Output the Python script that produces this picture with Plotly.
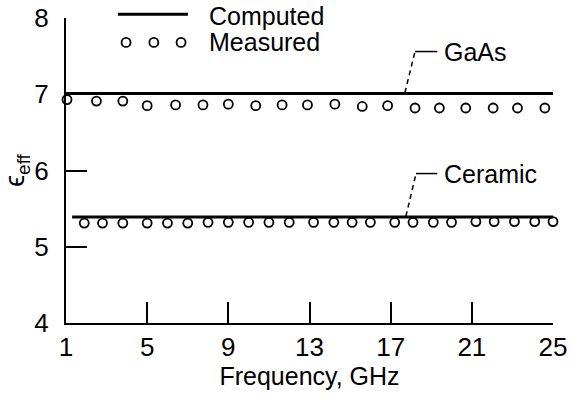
import plotly.graph_objects as go

# Effective permittivity vs frequency for two substrates
freq_gaas_meas = [1.05, 2.5, 3.8, 5.0, 6.4, 7.75, 9.0, 10.35, 11.65, 12.9,
                  14.25, 15.6, 16.85, 18.2, 19.4, 20.7, 22.05, 23.25, 24.6]
eps_gaas_meas = [6.93, 6.91, 6.91, 6.85, 6.86, 6.86, 6.87, 6.85, 6.86, 6.86,
                 6.87, 6.84, 6.85, 6.82, 6.82, 6.82, 6.82, 6.82, 6.82]

freq_ceramic_meas = [1.9, 2.8, 3.8, 5.0, 6.0, 7.0, 8.0, 9.0, 10.0, 11.0, 12.0, 13.2,
                     14.2, 15.1, 16.0, 17.2, 18.1, 19.1, 20.0, 21.2, 22.1, 23.1, 24.1, 25.0]
eps_ceramic_meas = [5.31, 5.31, 5.31, 5.31, 5.31, 5.31, 5.32, 5.32, 5.32, 5.32, 5.32, 5.32,
                    5.32, 5.32, 5.32, 5.32, 5.32, 5.32, 5.32, 5.33, 5.33, 5.33, 5.33, 5.33]

freq_gaas_comp = [1.0, 25.0]
eps_gaas_comp = [7.01, 7.01]
freq_ceramic_comp = [1.3, 25.0]
eps_ceramic_comp = [5.39, 5.39]

x_ticks = [1, 5, 9, 13, 17, 21, 25]
y_ticks = [4, 5, 6, 7, 8]

# legend sample positions (data units)
legend_circle_x = [3.96, 5.33, 6.67]
legend_circle_y = [7.68, 7.68, 7.68]

FONT = "Liberation Sans, Arial, Helvetica, sans-serif"
BLACK = "#000000"

open_marker = dict(symbol="circle-open", size=9, color=BLACK, line=dict(width=1.8))

fig = go.Figure()

fig.add_trace(go.Scatter(x=freq_gaas_comp, y=eps_gaas_comp, mode="lines",
                         line=dict(color=BLACK, width=3), showlegend=False))
fig.add_trace(go.Scatter(x=freq_ceramic_comp, y=eps_ceramic_comp, mode="lines",
                         line=dict(color=BLACK, width=3), showlegend=False))
fig.add_trace(go.Scatter(x=freq_gaas_meas, y=eps_gaas_meas, mode="markers",
                         marker=open_marker, cliponaxis=False, showlegend=False))
fig.add_trace(go.Scatter(x=freq_ceramic_meas, y=eps_ceramic_meas, mode="markers",
                         marker=open_marker, cliponaxis=False, showlegend=False))
fig.add_trace(go.Scatter(x=legend_circle_x, y=legend_circle_y, mode="markers",
                         marker=open_marker, cliponaxis=False, showlegend=False))

shapes = [
    # legend line sample for "Computed"
    dict(type="line", xref="x", yref="paper", x0=3.56, x1=7.01, y0=1.012, y1=1.012,
         line=dict(color=BLACK, width=3)),
    # leader for GaAs
    dict(type="line", xref="x", yref="y", x0=17.7, y0=7.02, x1=18.2, y1=7.56,
         line=dict(color=BLACK, width=1.5, dash="5px,4px")),
    dict(type="line", xref="x", yref="y", x0=18.2, y0=7.56, x1=19.3, y1=7.56,
         line=dict(color=BLACK, width=1.5)),
    # leader for Ceramic
    dict(type="line", xref="x", yref="y", x0=17.75, y0=5.40, x1=18.25, y1=5.96,
         line=dict(color=BLACK, width=1.5, dash="5px,4px")),
    dict(type="line", xref="x", yref="y", x0=18.25, y0=5.96, x1=19.3, y1=5.96,
         line=dict(color=BLACK, width=1.5)),
]

LABEL_FONT = dict(size=25, color=BLACK, family=FONT)
annotations = [
    dict(text="Computed", xref="x", yref="paper", x=7.95, y=1.008, xanchor="left",
         yanchor="middle", showarrow=False, font=LABEL_FONT),
    dict(text="Measured", xref="x", yref="y", x=7.95, y=7.68, xanchor="left",
         yanchor="middle", showarrow=False, font=LABEL_FONT),
    dict(text="GaAs", xref="x", yref="y", x=19.55, y=7.56, xanchor="left",
         yanchor="middle", showarrow=False, font=LABEL_FONT),
    dict(text="Ceramic", xref="x", yref="y", x=19.55, y=5.96, xanchor="left",
         yanchor="middle", showarrow=False, font=LABEL_FONT),
]

fig.update_layout(
    width=573, height=400,
    margin=dict(l=66, r=20, t=18, b=77, autoexpand=False),
    paper_bgcolor="white", plot_bgcolor="white",
    font=dict(family=FONT, size=25, color=BLACK),
    shapes=shapes, annotations=annotations,
    showlegend=False,
)

fig.update_xaxes(
    range=[1, 25], tickvals=x_ticks, ticktext=[str(v) for v in x_ticks],
    ticks="inside", ticklen=21, tickwidth=2, tickcolor=BLACK,
    showline=True, linecolor=BLACK, linewidth=2, showgrid=False, zeroline=False,
    automargin=False, tickfont=dict(size=26), ticklabelstandoff=0,
    title=dict(text="Frequency, GHz", standoff=4, font=dict(size=25)),
)
fig.update_yaxes(
    range=[4, 8], tickvals=y_ticks, ticktext=[str(v) for v in y_ticks],
    ticks="inside", ticklen=21, tickwidth=2, tickcolor=BLACK,
    showline=True, linecolor=BLACK, linewidth=2, showgrid=False, zeroline=False,
    automargin=False, tickfont=dict(size=26), ticklabelstandoff=10,
    title=dict(text="ϵ<sub>eff</sub>", standoff=4, font=dict(size=27)),
)

fig.write_html("out.html")
